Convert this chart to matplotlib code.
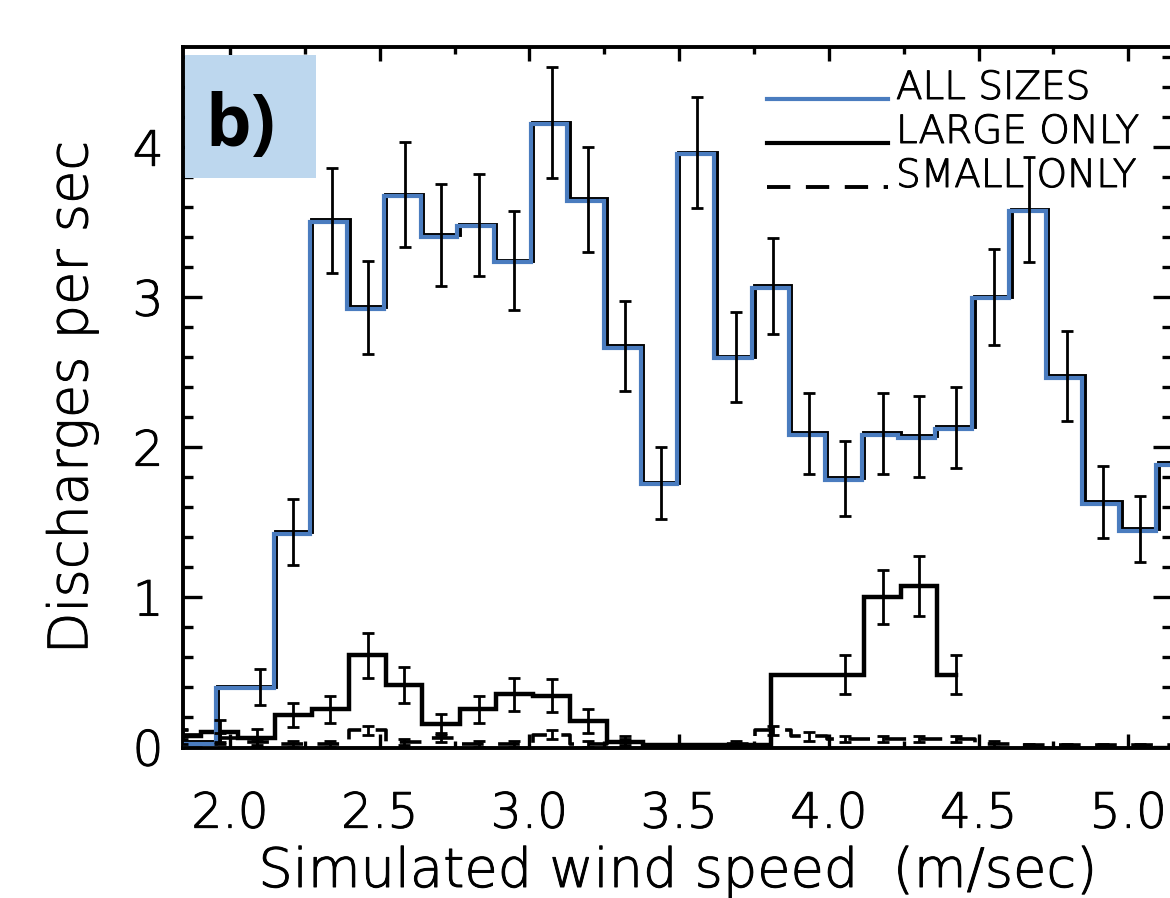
import matplotlib
matplotlib.use("Agg")
import matplotlib.pyplot as plt
import matplotlib.transforms as mtransforms
import matplotlib.patheffects as pe
from matplotlib.patches import Rectangle
from matplotlib.ticker import MultipleLocator
import numpy as np

# ---------------- data ----------------
# ALL SIZES (histogram points, drawn IDL psym=10 style: steps at midpoints)
all_x = [1.82, 2.10, 2.21, 2.34, 2.46, 2.585, 2.705, 2.83, 2.95, 3.075, 3.195,
         3.32, 3.44, 3.56, 3.69, 3.815, 3.935, 4.055, 4.18, 4.30, 4.425, 4.55,
         4.67, 4.795, 4.915, 5.04, 5.165]
all_y = [0.03, 0.40, 1.43, 3.51, 2.93, 3.68, 3.41, 3.48, 3.24, 4.16, 3.65,
         2.67, 1.76, 3.96, 2.60, 3.07, 2.09, 1.79, 2.09, 2.07, 2.13, 3.00,
         3.58, 2.47, 1.63, 1.45, 1.89]
all_err = [0.03, 0.12, 0.22, 0.35, 0.31, 0.35, 0.34, 0.34, 0.33, 0.37, 0.35,
           0.30, 0.24, 0.37, 0.30, 0.32, 0.27, 0.25, 0.27, 0.27, 0.27, 0.32,
           0.35, 0.30, 0.24, 0.22, 0.26]

# LARGE ONLY
large_x = [1.84, 1.965, 2.09, 2.21, 2.335, 2.46, 2.58, 2.705, 2.83, 2.95,
           3.075, 3.195, 3.32, 3.44, 3.56, 4.055, 4.18, 4.30, 4.425]
large_y = [0.07, 0.10, 0.06, 0.21, 0.25, 0.61, 0.41, 0.15, 0.25, 0.35,
           0.34, 0.17, 0.03, 0.01, 0.01, 0.48, 1.00, 1.07, 0.48]
large_err = [0.05, 0.08, 0.06, 0.08, 0.09, 0.15, 0.12, 0.07, 0.09, 0.11,
             0.11, 0.08, 0.04, 0.01, 0.01, 0.13, 0.18, 0.20, 0.13]

# SMALL ONLY
small_x = [1.84, 1.965, 2.09, 2.21, 2.335, 2.46, 2.58, 2.705, 2.83, 2.95,
           3.075, 3.195, 3.32, 3.44, 3.56, 3.69, 3.815, 3.935, 4.055, 4.18,
           4.30, 4.425, 4.55, 4.67, 4.795, 4.915, 5.04, 5.165]
small_y = [0.08, 0.06, 0.03, 0.02, 0.02, 0.11, 0.03, 0.06, 0.02, 0.02,
           0.08, 0.02, 0.03, 0.01, 0.01, 0.02, 0.11, 0.07, 0.05, 0.05,
           0.05, 0.05, 0.02, 0.01, 0.01, 0.01, 0.01, 0.01]
small_err = [0.03, 0.03, 0.02, 0.02, 0.02, 0.03, 0.02, 0.03, 0.02, 0.02,
             0.03, 0.02, 0.02, 0.01, 0.01, 0.02, 0.03, 0.03, 0.02, 0.02,
             0.02, 0.02, 0.02, 0.01, 0.01, 0.01, 0.01, 0.01]

legend_labels = ["ALL SIZES", "LARGE ONLY", "SMALL ONLY"]
x_ticks = [2.0, 2.5, 3.0, 3.5, 4.0, 4.5, 5.0]
y_ticks = [0, 1, 2, 3, 4]
x_label = "Simulated wind speed  (m/sec)"
y_label = "Discharges per sec"
panel_label = "b)"

# ---------------- styling ----------------
W, H, DPI = 1170, 898, 100
BLUE = "#4a7cbf"
plt.rcParams["font.family"] = ["DejaVu Sans"]
plt.rcParams["font.weight"] = "light"
plt.rcParams["axes.labelweight"] = "light"
THICK = [pe.withStroke(linewidth=0.7, foreground="black")]

fig = plt.figure(figsize=(W / DPI, H / DPI), dpi=DPI)
fig.patch.set_facecolor("white")
ax = fig.add_axes([183 / W, 1 - 748 / H, (1172 - 183) / W, (748 - 47) / H])

ax.set_xlim(1.843, 5.146)
ax.set_ylim(-0.01, 4.665)

# all sizes: black line underneath, blue slightly offset on top
ax.step(all_x, all_y, where="mid", color="black", lw=2.8, zorder=3,
        solid_joinstyle="miter")
blue_tr = mtransforms.offset_copy(ax.transData, fig=fig, x=-2.5, y=-1.5,
                                  units="dots")
ax.step(all_x, all_y, where="mid", color=BLUE, lw=3.0, zorder=4,
        transform=blue_tr, solid_joinstyle="miter")

ax.step(large_x, large_y, where="mid", color="black", lw=3.2, zorder=3,
        solid_joinstyle="miter")
ax.step(small_x, small_y, where="mid", color="black", lw=2.6, zorder=3,
        linestyle=(0, (6, 4)))

eb_kw = dict(fmt="none", ecolor="black", elinewidth=2.0, capsize=4,
             capthick=2.0, zorder=5)
ax.errorbar(all_x, all_y, yerr=all_err, **eb_kw)
ax.errorbar(large_x, large_y, yerr=large_err, **eb_kw)
ax.errorbar(small_x, small_y, yerr=small_err, **eb_kw)

# ticks
ax.set_xticks(x_ticks)
ax.set_xticklabels([f"{t:.1f}" for t in x_ticks])
ax.xaxis.set_minor_locator(MultipleLocator(0.25))
ax.set_yticks(y_ticks)
ax.set_yticklabels([str(t) for t in y_ticks])
ax.yaxis.set_minor_locator(MultipleLocator(0.2))
ax.tick_params(axis="both", which="both", direction="in", top=True,
               right=True, color="black")
ax.tick_params(axis="x", which="major", length=10, width=2.4, pad=30,
               labelsize=35)
ax.tick_params(axis="x", which="minor", length=5, width=2.4)
ax.tick_params(axis="y", which="major", length=14, width=2.4, pad=14,
               labelsize=35)
ax.tick_params(axis="y", which="minor", length=7, width=2.4)
for s in ax.spines.values():
    s.set_linewidth(2.8)

xl = ax.set_xlabel(x_label, fontsize=39, labelpad=6, fontweight="light")
yl = ax.set_ylabel(y_label, fontsize=39, labelpad=24, fontweight="light")
for t in [xl, yl] + ax.get_xticklabels() + ax.get_yticklabels():
    t.set_path_effects(THICK)

# legend (drawn IDL style)
leg_styles = [dict(color=BLUE, lw=3.0, ls="-"),
              dict(color="black", lw=3.0, ls="-"),
              dict(color="black", lw=2.8, ls=(0, (6, 4)))]
leg_y = [99, 143, 187]
for lab, st, yy in zip(legend_labels, leg_styles, leg_y):
    yf = 1 - yy / H
    fig.add_artist(plt.Line2D([767 / W, 888 / W], [yf, yf],
                              transform=fig.transFigure, zorder=6, **st))
    fig.text(896 / W, yf, lab, fontsize=28, ha="left", va="baseline",
             zorder=6, path_effects=THICK)

# panel label box
fig.add_artist(Rectangle((185 / W, 1 - 178 / H), 131 / W, 123 / H,
                         transform=fig.transFigure, facecolor="#bdd7ee",
                         edgecolor="none", zorder=7))
fig.text(205 / W, 1 - 146 / H, panel_label, fontsize=52, fontweight="bold",
         family=["Open Sans", "DejaVu Sans"], ha="left", va="baseline",
         zorder=8)

fig.savefig("out.png", dpi=DPI)
